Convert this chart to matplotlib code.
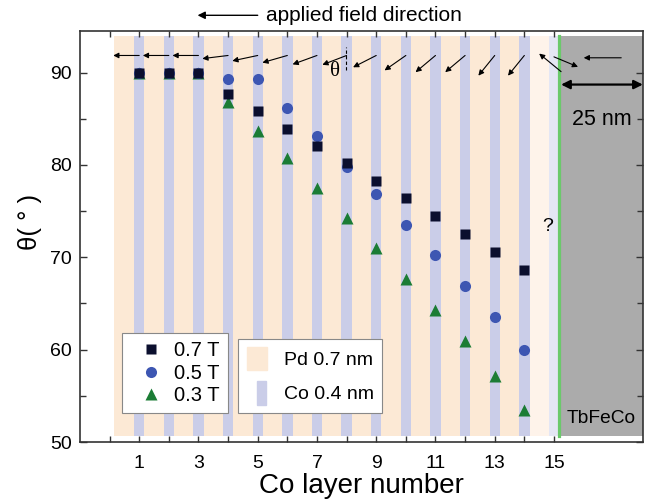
import numpy as np
import matplotlib
matplotlib.use('Agg')
import matplotlib.pyplot as plt
from matplotlib.lines import Line2D
from matplotlib.patches import Patch, Rectangle
from matplotlib.legend_handler import HandlerPatch

plt.rcParams['font.family'] = ['Liberation Sans', 'DejaVu Sans']

# data
layers = np.arange(1, 15)
theta_07 = [90, 90, 90, 87.7, 85.8, 83.9, 82.1, 80.2, 78.3, 76.4, 74.5, 72.5, 70.6, 68.6]
theta_05 = [90, 90, 90, 89.3, 89.3, 86.2, 83.1, 79.8, 76.8, 73.5, 70.3, 66.9, 63.5, 60.0]
theta_03 = [90, 90, 90, 86.8, 83.7, 80.7, 77.5, 74.3, 71.0, 67.7, 64.3, 60.9, 57.2, 53.5]
arrow_tilt = [0, 0, 0, 7, 12, 16, 20, 21, 27, 35, 40, 40, 51, 51]
series_labels = ['0.7 T', '0.5 T', '0.3 T']
layer_labels = ['Pd 0.7 nm', 'Co 0.4 nm']

c_pd = '#fce9d5'
c_co = '#cacde8'
c_sq = '#0b0f2e'
c_ci = '#3d56b2'
c_tr = '#1b7c35'

fig = plt.figure(figsize=(6.5, 5), dpi=100)
ax = fig.add_axes([0.123, 0.116, 0.866, 0.822])
ax.set_xlim(-1, 18)
ax.set_ylim(50, 94.5)

yb, yt = 50.65, 94.0
# multilayer background
ax.fill_between([0.15, 14.18], yb, yt, color=c_pd, lw=0, zorder=0)
ax.fill_between([14.18, 14.82], yb, yt, color='#fef3ea', lw=0, zorder=0)
ax.fill_between([14.82, 15.12], yb, yt, color='#e4e6f4', lw=0, zorder=0)
ax.bar(layers, yt - yb, bottom=yb, width=0.35, color=c_co, lw=0, zorder=1)
ax.fill_between([15.2, 18], yb, yt, color='#ababab', lw=0, zorder=0)
ax.plot([15.17, 15.17], [yb, yt], color='#6bc96b', lw=2.3, zorder=2)

# data
ax.plot(layers, theta_03, '^', color=c_tr, ms=8.5, mec='none', zorder=4)
ax.plot(layers, theta_05, 'o', color=c_ci, ms=8, mec='none', zorder=4)
ax.plot(layers, theta_07, 's', color=c_sq, ms=6.8, mec='none', zorder=5)

# magnetisation arrows
L = 18.7
arr = dict(arrowstyle='<|-', color='black', lw=0.8, mutation_scale=8, shrinkA=0, shrinkB=0)
for k, a in zip(layers, arrow_tilt):
    r = np.radians(a)
    ax.annotate('', xy=(k, 91.85), xytext=(-L * np.cos(r), -L * np.sin(r)),
                textcoords='offset points', arrowprops=arr, zorder=6)
ax.annotate('', xy=(15.24, 90.1), xytext=(-15.8, 13), textcoords='offset points',
            arrowprops=arr)
ax.annotate('', xy=(15.0, 91.7), xytext=(17.3, -7.2), textcoords='offset points',
            arrowprops=arr)
ax.annotate('', xy=(17.27, 91.6), xytext=(-27, 0), textcoords='offset points',
            arrowprops=arr)
ax.plot([7.98, 7.98], [90.3, 92.8], color='black', lw=0.8, ls=(0, (3, 2)), zorder=6)
ax.text(7.6, 90.1, 'θ', family=['Liberation Serif'], fontsize=15,
        ha='center', va='center', zorder=6)

# applied field
ax.annotate('', xy=(2.97, 96.2), xytext=(5.0, 96.2),
            arrowprops=dict(arrowstyle='-|>', color='black', lw=1.0,
                            mutation_scale=11, shrinkA=0, shrinkB=0),
            annotation_clip=False)
ax.text(8.6, 96.2, 'applied field direction', fontsize=15,
        ha='center', va='center', clip_on=False)

# TbFeCo thickness
ax.annotate('', xy=(15.24, 88.7), xytext=(18.0, 88.7),
            arrowprops=dict(arrowstyle='<|-|>', color='black', lw=1.6,
                            mutation_scale=13, shrinkA=0, shrinkB=0))
ax.text(16.6, 84.9, '25 nm', fontsize=15.5, ha='center', va='center')
ax.text(14.8, 73.3, '?', fontsize=14, ha='center', va='center')
ax.text(16.6, 52.5, 'TbFeCo', fontsize=13.8, ha='center', va='center')

# legends
h1 = [Line2D([], [], ls='none', marker='s', color=c_sq, ms=6.8, mec='none'),
      Line2D([], [], ls='none', marker='o', color=c_ci, ms=8, mec='none'),
      Line2D([], [], ls='none', marker='^', color=c_tr, ms=8.5, mec='none')]
leg1 = ax.legend(h1, series_labels, loc='lower left', bbox_to_anchor=(0.0746, 0.0706),
                 borderaxespad=0, fontsize=14.5, handlelength=2.1, handletextpad=0.1,
                 labelspacing=0.16, borderpad=0.4, fancybox=False, framealpha=1,
                 edgecolor='#888888', numpoints=1)
leg1.get_frame().set_linewidth(0.8)
leg1.set_zorder(10)
ax.add_artist(leg1)


def co_patch(legend, orig_handle, xdescent, ydescent, width, height, fontsize):
    return Rectangle((-xdescent + width * 0.5, -ydescent - height * 0.05),
                     width * 0.45, height * 1.1)


h2 = [Patch(color=c_pd), Patch(color=c_co)]
leg2 = ax.legend(h2, layer_labels, loc='lower left', bbox_to_anchor=(0.2806, 0.0706),
                 borderaxespad=0, fontsize=14, handlelength=1.05, handleheight=1.4,
                 handletextpad=0.85, labelspacing=0.62, borderpad=0.45, fancybox=False,
                 framealpha=1, edgecolor='#888888',
                 handler_map={h2[1]: HandlerPatch(patch_func=co_patch)})
leg2.get_frame().set_linewidth(0.8)
leg2.set_zorder(10)

# axes styling
ax.set_xticks(np.arange(1, 16, 2))
ax.set_xticks(np.arange(0, 16, 2), minor=True)
ax.set_yticks(np.arange(50, 91, 10))
ax.set_yticks(np.arange(55, 91, 10), minor=True)
ax.tick_params(which='both', direction='in', top=True, right=True,
               color='#333333', width=1.0, labelsize=14, pad=6)
ax.tick_params(which='major', length=5)
ax.tick_params(which='minor', length=4)
ax.tick_params(axis='x', which='both', length=4, pad=9)
for s in ax.spines.values():
    s.set_linewidth(1.2)
    s.set_color('#333333')
ax.set_xlabel('Co layer number', fontsize=20, labelpad=1)
ax.set_ylabel('θ( ° )', fontsize=18.5)
ax.yaxis.set_label_coords(-0.0675, 0.535)

fig.savefig('out.png', dpi=100)
